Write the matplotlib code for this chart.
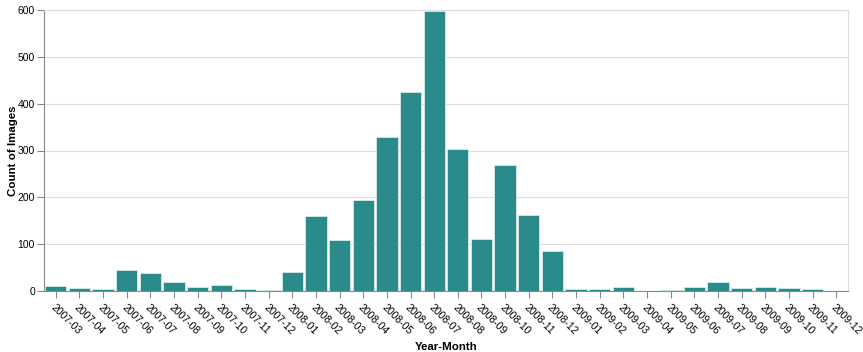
import matplotlib.pyplot as plt

plt.rcParams["font.family"] = ["Liberation Sans", "DejaVu Sans"]

# Data
months = [
    "2007-03", "2007-04", "2007-05", "2007-06", "2007-07", "2007-08",
    "2007-09", "2007-10", "2007-11", "2007-12", "2008-01", "2008-02",
    "2008-03", "2008-04", "2008-05", "2008-06", "2008-07", "2008-08",
    "2008-09", "2008-10", "2008-11", "2008-12", "2009-01", "2009-02",
    "2009-03", "2009-04", "2009-05", "2009-06", "2009-07", "2009-08",
    "2009-09", "2009-10", "2009-11", "2009-12",
]
counts = [
    10, 7, 5, 44, 38, 20,
    8, 12, 4, 3, 41, 160,
    109, 194, 329, 425, 598, 303,
    111, 270, 162, 85, 4, 4,
    8, 0, 2, 9, 19, 6,
    9, 6, 5, 0,
]

BAR_COLOR = "#2a8b8a"
GRID_COLOR = "#dddddd"
AXIS_COLOR = "#888888"

fig = plt.figure(figsize=(8.63, 3.52), dpi=100)
ax = fig.add_axes([44 / 863, 61 / 352, (848 - 44) / 863, (291 - 10) / 352])

x = range(len(months))
ax.bar(x, counts, width=0.9, color=BAR_COLOR, edgecolor="#d8ecea",
       linewidth=0.6, zorder=3)

ax.set_xlim(-0.5, len(months) - 0.5)
ax.set_ylim(0, 600)
ax.set_yticks(range(0, 601, 100))
ax.set_xticks(list(x))
ax.set_xticklabels(months, rotation=-45, ha="left", va="top",
                   rotation_mode="anchor")

ax.grid(axis="y", color=GRID_COLOR, linewidth=0.8, zorder=0)
ax.tick_params(axis="both", colors=AXIS_COLOR, labelcolor="black",
               labelsize=7.5, length=5, width=0.8)
ax.tick_params(axis="x", pad=3)
ax.tick_params(axis="y", pad=1.5)

for side in ["top", "right"]:
    ax.spines[side].set_color(GRID_COLOR)
    ax.spines[side].set_linewidth(0.8)
for side in ["left", "bottom"]:
    ax.spines[side].set_color(AXIS_COLOR)
    ax.spines[side].set_linewidth(0.8)

ax.set_xlabel("Year-Month", fontsize=8.25, fontweight="bold", labelpad=4)
ax.set_ylabel("Count of Images", fontsize=8.25, fontweight="bold")
ax.yaxis.set_label_coords((18 - 44) / 804, 0.5)

fig.savefig("out.png", dpi=100)
